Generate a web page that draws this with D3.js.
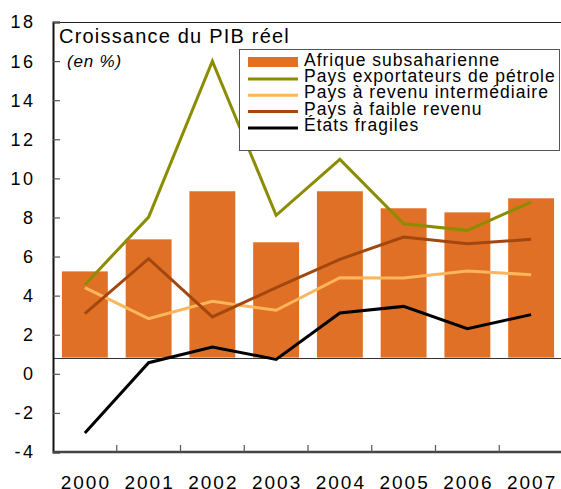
<!DOCTYPE html>
<html>
<head>
  <script src="https://d3js.org/d3.v7.min.js"></script>
  <style>
    body { margin: 0; background: #fff; }
    text { font-family: "Liberation Sans", Arial, sans-serif; fill: #000; }
  </style>
</head>
<body>
<div id="chart"></div>
<script>
var years = ["2000", "2001", "2002", "2003", "2004", "2005", "2006", "2007"];
var afrique = [5.24, 6.88, 9.34, 6.73, 9.34, 8.47, 8.26, 8.98];
var petrole = [4.56, 8.02, 16.0, 8.11, 10.97, 7.68, 7.34, 8.79];
var intermediaire = [4.41, 2.82, 3.71, 3.25, 4.92, 4.90, 5.26, 5.07];
var faible = [3.08, 5.89, 2.91, 4.41, 5.86, 7.0, 6.66, 6.88];
var fragiles = [-3.03, 0.57, 1.37, 0.74, 3.11, 3.45, 2.31, 3.03];
var yTicks = [-4, -2, 0, 2, 4, 6, 8, 10, 12, 14, 16, 18];
var barBase = 0.83; // bars and reference line sit slightly above the 0 tick in the original

var series = [
  { name: "Pays exportateurs de pétrole", values: petrole, color: "#8c8c00" },
  { name: "Pays à revenu intermédiaire", values: intermediaire, color: "#ffb55a" },
  { name: "Pays à faible revenu", values: faible, color: "#a2470f" },
  { name: "États fragiles", values: fragiles, color: "#000000" }
];

var width = 561, height = 489;
var plotLeft = 53, plotRight = 563, plotTop = 22, plotBottom = 452;
var numSpacing = 2.5;

var svg = d3.select("#chart").append("svg")
  .attr("width", width)
  .attr("height", height);

var x = d3.scaleBand()
  .domain(years)
  .range([plotLeft, plotRight])
  .paddingInner(0.28)
  .paddingOuter(0.14);

var y = d3.scaleLinear()
  .domain([-4, 18])
  .range([plotBottom, plotTop]);

var step = x.step();
var cx = function(d) { return x(d) + x.bandwidth() / 2; };

// bars
svg.selectAll(".bar")
  .data(afrique)
  .enter().append("rect")
  .attr("class", "bar")
  .attr("x", function(d, i) { return x(years[i]); })
  .attr("y", function(d) { return y(d); })
  .attr("width", x.bandwidth())
  .attr("height", function(d) { return y(barBase) - y(d); })
  .attr("fill", "#e07025");

// reference line
svg.append("line")
  .attr("x1", plotLeft).attr("x2", width)
  .attr("y1", Math.round(y(barBase)) + 0.5).attr("y2", Math.round(y(barBase)) + 0.5)
  .attr("stroke", "#333").attr("stroke-width", 1);

// top frame
svg.append("line")
  .attr("x1", plotLeft).attr("x2", width)
  .attr("y1", plotTop + 0.5).attr("y2", plotTop + 0.5)
  .attr("stroke", "#222").attr("stroke-width", 1);

// y axis
var yAxis = d3.axisRight(y)
  .tickValues(yTicks)
  .tickSize(7)
  .tickFormat("");
var gy = svg.append("g")
  .attr("transform", "translate(" + plotLeft + ",0)")
  .call(yAxis);
gy.select(".domain").attr("stroke", "#111").attr("stroke-width", 2);
gy.selectAll(".tick line").attr("stroke", "#555").attr("stroke-width", 1.2);

svg.selectAll(".ylab")
  .data(yTicks)
  .enter().append("text")
  .attr("class", "ylab")
  .attr("x", 33 + numSpacing)
  .attr("y", function(d) { return y(d); })
  .attr("dy", "0.36em")
  .attr("text-anchor", "end")
  .style("font-size", "18px")
  .style("letter-spacing", numSpacing + "px")
  .text(function(d) { return d; });

// x axis: ticks between categories
svg.append("line")
  .attr("x1", plotLeft).attr("x2", width)
  .attr("y1", plotBottom).attr("y2", plotBottom)
  .attr("stroke", "#444").attr("stroke-width", 2.5);

svg.selectAll(".xtick")
  .data(years.slice(1))
  .enter().append("line")
  .attr("class", "xtick")
  .attr("x1", function(d) { return x(d) - step * 0.28 / 2; })
  .attr("x2", function(d) { return x(d) - step * 0.28 / 2; })
  .attr("y1", plotBottom).attr("y2", plotBottom - 7)
  .attr("stroke", "#555").attr("stroke-width", 1.2);

svg.selectAll(".xlab")
  .data(years)
  .enter().append("text")
  .attr("class", "xlab")
  .attr("x", function(d) { return cx(d) + 1; })
  .attr("y", 488.5)
  .attr("text-anchor", "middle")
  .style("font-size", "19px")
  .style("letter-spacing", "2px")
  .text(function(d) { return d; });

// lines
var line = d3.line()
  .x(function(d, i) { return cx(years[i]); })
  .y(function(d) { return y(d); });

svg.selectAll(".series")
  .data(series)
  .enter().append("path")
  .attr("class", "series")
  .attr("d", function(s) { return line(s.values); })
  .attr("fill", "none")
  .attr("stroke", function(s) { return s.color; })
  .attr("stroke-width", 3)
  .attr("stroke-linejoin", "miter");

// title
svg.append("text")
  .attr("x", 59).attr("y", 43)
  .style("font-size", "20px")
  .style("letter-spacing", "1.2px")
  .text("Croissance du PIB réel");

svg.append("text")
  .attr("x", 67).attr("y", 67)
  .style("font-size", "17px")
  .style("font-style", "italic")
  .style("letter-spacing", "0.8px")
  .text("(en %)");

// legend
var legend = svg.append("g");
legend.append("rect")
  .attr("x", 239.5).attr("y", 49.5)
  .attr("width", 320).attr("height", 101)
  .attr("fill", "#fff")
  .attr("stroke", "#555").attr("stroke-width", 1);

legend.append("rect")
  .attr("x", 248).attr("y", 57)
  .attr("width", 50).attr("height", 10)
  .attr("fill", "#e07025");

legend.selectAll(".lgline")
  .data(series)
  .enter().append("line")
  .attr("x1", 248).attr("x2", 298)
  .attr("y1", function(d, i) { return 79 + i * 16.3; })
  .attr("y2", function(d, i) { return 79 + i * 16.3; })
  .attr("stroke", function(d) { return d.color; })
  .attr("stroke-width", 3);

legend.selectAll(".lgtext")
  .data(["Afrique subsaharienne"].concat(series.map(function(s) { return s.name; })))
  .enter().append("text")
  .attr("x", 304)
  .attr("y", function(d, i) { return 66 + i * 16.2; })
  .style("font-size", "17.5px")
  .style("letter-spacing", "1px")
  .text(function(d) { return d; });
</script>
</body>
</html>
